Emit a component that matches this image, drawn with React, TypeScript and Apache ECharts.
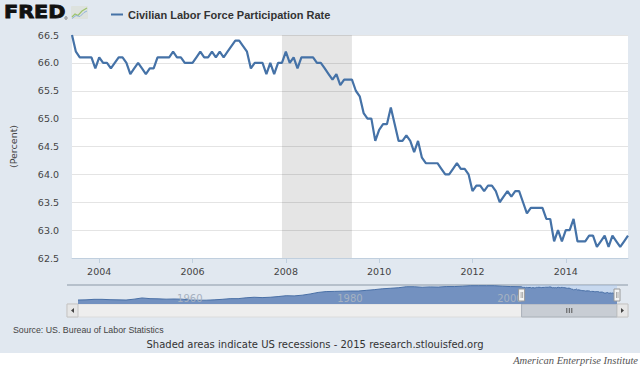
import React, { useEffect, useRef } from "react";
import * as echarts from "echarts";

// ---- Data -----------------------------------------------------------------
const SERIES_NAME = "Civilian Labor Force Participation Rate";
const START_YEAR = 2003;
const START_MONTH = 6; // June 2003 is the first monthly observation

// Monthly values, Jun 2003 .. May 2015 (percent)
const participationRate = [
  // 2003 Jun-Dec
  66.5, 66.2, 66.1, 66.1, 66.1, 66.1, 65.9,
  // 2004
  66.1, 66.0, 66.0, 65.9, 66.0, 66.1, 66.1, 66.0, 65.8, 65.9, 66.0, 65.9,
  // 2005
  65.8, 65.9, 65.9, 66.1, 66.1, 66.1, 66.1, 66.2, 66.1, 66.1, 66.0, 66.0,
  // 2006
  66.0, 66.1, 66.2, 66.1, 66.1, 66.2, 66.1, 66.2, 66.1, 66.2, 66.3, 66.4,
  // 2007
  66.4, 66.3, 66.2, 65.9, 66.0, 66.0, 66.0, 65.8, 66.0, 65.8, 66.0, 66.0,
  // 2008
  66.2, 66.0, 66.1, 65.9, 66.1, 66.1, 66.1, 66.1, 66.0, 66.0, 65.9, 65.8,
  // 2009
  65.7, 65.8, 65.6, 65.7, 65.7, 65.7, 65.5, 65.4, 65.1, 65.0, 65.0, 64.6,
  // 2010
  64.8, 64.9, 64.9, 65.2, 64.9, 64.6, 64.6, 64.7, 64.6, 64.4, 64.6, 64.3,
  // 2011
  64.2, 64.2, 64.2, 64.2, 64.1, 64.0, 64.0, 64.1, 64.2, 64.1, 64.1, 64.0,
  // 2012
  63.7, 63.8, 63.8, 63.7, 63.8, 63.8, 63.7, 63.5, 63.6, 63.7, 63.6, 63.7,
  // 2013
  63.7, 63.5, 63.3, 63.4, 63.4, 63.4, 63.4, 63.2, 63.2, 62.8, 63.0, 62.8,
  // 2014
  63.0, 63.0, 63.2, 62.8, 62.8, 62.8, 62.9, 62.9, 62.7, 62.8, 62.9, 62.7,
  // 2015 Jan-May
  62.9, 62.8, 62.7, 62.8, 62.9,
];

// Navigator (full history) – yearly levels 1948..2002
const navigatorYears = [
  1948, 1949, 1950, 1951, 1952, 1953, 1954, 1955, 1956, 1957, 1958, 1959,
  1960, 1961, 1962, 1963, 1964, 1965, 1966, 1967, 1968, 1969, 1970, 1971,
  1972, 1973, 1974, 1975, 1976, 1977, 1978, 1979, 1980, 1981, 1982, 1983,
  1984, 1985, 1986, 1987, 1988, 1989, 1990, 1991, 1992, 1993, 1994, 1995,
  1996, 1997, 1998, 1999, 2000, 2001, 2002,
];
const navigatorValues = [
  58.8, 58.9, 59.2, 59.2, 59.0, 58.9, 58.8, 59.3, 60.0, 59.6, 59.5, 59.3,
  59.4, 59.3, 58.8, 58.7, 58.7, 58.9, 59.2, 59.6, 59.6, 60.1, 60.4, 60.2,
  60.4, 60.8, 61.3, 61.2, 61.6, 62.3, 63.2, 63.7, 63.8, 63.9, 64.0, 64.0,
  64.4, 64.8, 65.3, 65.6, 65.9, 66.5, 66.5, 66.2, 66.4, 66.3, 66.6, 66.6,
  66.8, 67.1, 67.1, 67.1, 67.1, 66.8, 66.6,
];

const recessionStart = 2007 + 11 / 12; // Dec 2007
const recessionEnd = 2009 + 5 / 12; // Jun 2009
const xTickYears = [2004, 2006, 2008, 2010, 2012, 2014];
const navTickYears = [1960, 1980, 2000];

// ---- Derived --------------------------------------------------------------
const mainPoints = participationRate.map((v, i) => [
  START_YEAR + (START_MONTH - 1 + i) / 12,
  v,
]);
const xMin = mainPoints[0][0];
const xMax = mainPoints[mainPoints.length - 1][0];
const navPoints = navigatorYears
  .map((y, i) => [y, navigatorValues[i]])
  .concat(mainPoints);

const BG = "#e1e8f0";
const LINE = "#4572a7";
const AXIS_FONT = "DejaVu Sans";

function buildGraphics(sx: number, ex: number, navLabelX: number[]) {
  const mid = (sx + ex) / 2;
  const navLabels = navTickYears.map((yr, i) => ({
    type: "text", x: navLabelX[i] + 3, y: 298, z: 100,
    style: { text: String(yr), fontFamily: AXIS_FONT, fontSize: 10, fill: "#a6b1c1", textVerticalAlign: "middle" },
  }));
  return [
    // white strip at bottom
    { type: "rect", shape: { x: 0, y: 353, width: 640, height: 13 }, style: { fill: "#ffffff" }, silent: true },
    // FRED logo
    {
      type: "text", x: 4, y: 12, scaleX: 1.12,
      style: { text: "FRED", fontFamily: "DejaVu Sans", fontWeight: "bold", fontSize: 18.5, fill: "#111", stroke: "#111", lineWidth: 0.9, textVerticalAlign: "middle" },
    },
    { type: "circle", shape: { cx: 66, cy: 18, r: 1.2 }, style: { fill: "none", stroke: "#333", lineWidth: 0.6 } },
    { type: "rect", shape: { x: 71, y: 6, width: 17, height: 13, r: 1 }, style: { fill: "#dde2de" } },
    { type: "polyline", shape: { points: [[72, 17], [75, 14], [78, 15.5], [82, 11], [87, 8]] }, style: { stroke: "#9cc46c", lineWidth: 1.2, fill: "none" } },
    { type: "polyline", shape: { points: [[72, 18.5], [76, 15.5], [80, 16.5], [84, 12.5], [87, 11]] }, style: { stroke: "#8fb2da", lineWidth: 1, fill: "none" } },
    // navigator top line
    { type: "line", shape: { x1: 67, y1: 285, x2: 628, y2: 285 }, style: { stroke: "#b6c0cb", lineWidth: 2 } },
    ...navLabels,
    // scrollbar track
    { type: "rect", shape: { x: 67, y: 304, width: 561, height: 13 }, style: { fill: "#eeeeee", stroke: "#dcdcdc", lineWidth: 1 } },
    { type: "rect", shape: { x: 67, y: 304, width: 11, height: 13 }, style: { fill: "#e6e6e6", stroke: "#c4c4c4", lineWidth: 1 } },
    { type: "polygon", shape: { points: [[74, 308], [74, 313], [71, 310.5]] }, style: { fill: "#444" } },
    { type: "rect", shape: { x: sx, y: 304, width: ex - sx, height: 13 }, style: { fill: "#c8cdd4", stroke: "#a9b0b9", lineWidth: 1 } },
    { type: "line", shape: { x1: mid - 2.5, y1: 308, x2: mid - 2.5, y2: 313 }, style: { stroke: "#555", lineWidth: 1 } },
    { type: "line", shape: { x1: mid, y1: 308, x2: mid, y2: 313 }, style: { stroke: "#555", lineWidth: 1 } },
    { type: "line", shape: { x1: mid + 2.5, y1: 308, x2: mid + 2.5, y2: 313 }, style: { stroke: "#555", lineWidth: 1 } },
    { type: "rect", shape: { x: ex, y: 304, width: 628 - ex, height: 13 }, style: { fill: "#e6e6e6", stroke: "#c4c4c4", lineWidth: 1 } },
    { type: "polygon", shape: { points: [[ex + 4, 308], [ex + 4, 313], [ex + 7, 310.5]] }, style: { fill: "#444" } },
    // navigator handles
    { type: "rect", z: 101, shape: { x: sx - 3, y: 289, width: 6, height: 12 }, style: { fill: "#f4f4f4", stroke: "#999", lineWidth: 1 } },
    { type: "line", z: 102, shape: { x1: sx - 0.5, y1: 292, x2: sx - 0.5, y2: 298 }, style: { stroke: "#999", lineWidth: 0.8 } },
    { type: "line", z: 102, shape: { x1: sx + 1, y1: 292, x2: sx + 1, y2: 298 }, style: { stroke: "#999", lineWidth: 0.8 } },
    { type: "rect", z: 101, shape: { x: ex - 3, y: 289, width: 6, height: 12 }, style: { fill: "#f4f4f4", stroke: "#999", lineWidth: 1 } },
    { type: "line", z: 102, shape: { x1: ex - 0.5, y1: 292, x2: ex - 0.5, y2: 298 }, style: { stroke: "#999", lineWidth: 0.8 } },
    { type: "line", z: 102, shape: { x1: ex + 1, y1: 292, x2: ex + 1, y2: 298 }, style: { stroke: "#999", lineWidth: 0.8 } },
    // footer texts
    {
      type: "text", x: 13, y: 330,
      style: { text: "Source: US. Bureau of Labor Statistics", fontFamily: "Liberation Sans", fontSize: 8.8, fill: "#444", textVerticalAlign: "middle" },
    },
    {
      type: "text", x: 315, y: 344.5,
      style: { text: "Shaded areas indicate US recessions - 2015 research.stlouisfed.org", fontFamily: AXIS_FONT, fontSize: 10, fill: "#333", textAlign: "center", textVerticalAlign: "middle" },
    },
    {
      type: "text", x: 638, y: 360,
      style: { text: "American Enterprise Institute", fontFamily: "Liberation Serif", fontStyle: "italic", fontSize: 10.5, fill: "#555", textAlign: "right", textVerticalAlign: "middle" },
    },
  ];
}

const option: any = {
  animation: false,
  backgroundColor: BG,
  legend: {
    left: 106,
    top: 4,
    itemWidth: 12,
    itemHeight: 2,
    itemGap: 5,
    data: [{ name: SERIES_NAME, icon: "rect" }],
    textStyle: { fontFamily: "Liberation Sans", fontWeight: "bold", fontSize: 11, color: "#333" },
  },
  grid: [
    { left: 67, top: 35, width: 561, height: 223, show: true, backgroundColor: "#ffffff", borderWidth: 0 },
    { left: 78, top: 285, width: 539, height: 19, show: false },
  ],
  xAxis: [
    {
      type: "value", gridIndex: 0, min: xMin, max: xMax,
      splitLine: { show: false },
      axisLine: { show: true, lineStyle: { color: "#c0cfde", width: 1 } },
      axisTick: { show: true, customValues: xTickYears, length: 5, lineStyle: { color: "#c0cfde" } },
      axisLabel: {
        customValues: xTickYears, formatter: (v: number) => String(Math.round(v)),
        color: "#444", fontFamily: AXIS_FONT, fontSize: 9.5, margin: 8,
      },
    },
    {
      type: "value", gridIndex: 1, min: 1948, max: xMax, show: false,
      splitLine: { show: false },
    },
  ],
  yAxis: [
    {
      type: "value", gridIndex: 0, min: 62.5, max: 66.5, interval: 0.5,
      name: "(Percent)", nameLocation: "middle", nameGap: 54, nameRotate: 90,
      nameTextStyle: { color: "#444", fontFamily: AXIS_FONT, fontSize: 9.5 },
      axisLine: { show: false }, axisTick: { show: false },
      splitLine: { lineStyle: { color: "#e4e4e4", width: 1 } },
      axisLabel: { formatter: (v: number) => v.toFixed(1), color: "#444", fontFamily: AXIS_FONT, fontSize: 9.5, margin: 13 },
    },
    { type: "value", gridIndex: 1, min: 56.5, max: 67.5, show: false, splitLine: { show: false } },
  ],
  series: [
    {
      name: SERIES_NAME, type: "line", xAxisIndex: 0, yAxisIndex: 0,
      data: mainPoints, showSymbol: false, symbol: "none",
      lineStyle: { color: LINE, width: 2.2 }, itemStyle: { color: LINE },
      markArea: {
        silent: true,
        itemStyle: { color: "rgba(0,0,0,0.1)" },
        data: [[{ xAxis: recessionStart }, { xAxis: recessionEnd }]],
      },
      z: 3,
    },
    {
      name: "navigator", type: "line", xAxisIndex: 1, yAxisIndex: 1,
      data: navPoints, showSymbol: false, symbol: "none",
      lineStyle: { color: "#4a70a6", width: 1 },
      areaStyle: { color: "#7391c0", opacity: 1 },
      markArea: {
        silent: true,
        itemStyle: { color: "rgba(170,200,238,0.45)" },
        data: [[{ xAxis: xMin, yAxis: 67.5 }, { xAxis: xMax, yAxis: 56.5 }]],
      },
      z: 2,
    },
  ],
};

export default function App() {
  const ref = useRef<HTMLDivElement>(null);
  useEffect(() => {
    document.body.style.margin = "0";
    const chart = echarts.init(ref.current as HTMLDivElement, null, { renderer: "svg" });
    chart.setOption(option);
    const toX = (v: number) => chart.convertToPixel({ xAxisIndex: 1 }, v) as number;
    const sx = toX(xMin);
    const ex = toX(xMax);
    chart.setOption({ graphic: buildGraphics(sx, ex, navTickYears.map(toX)) });
    return () => chart.dispose();
  }, []);
  return (
    <div
      ref={ref}
      style={{ position: "absolute", left: 0, top: 0, width: 640, height: 366 }}
    />
  );
}
